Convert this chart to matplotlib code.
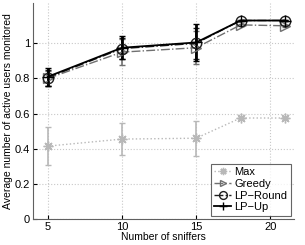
import matplotlib
matplotlib.use("Agg")
import matplotlib.pyplot as plt

sniffers = [5, 10, 15, 18, 21]

max_vals = [0.415, 0.455, 0.46, 0.575, 0.575]
max_err = [0.11, 0.09, 0.10, 0.005, 0.005]

greedy_vals = [0.80, 0.95, 0.975, 1.105, 1.10]
greedy_err = [0.04, 0.075, 0.095, 0.005, 0.005]

lpround_vals = [0.805, 0.97, 1.0, 1.13, 1.13]
lpround_err = [0.045, 0.06, 0.09, 0.005, 0.005]

lpup_vals = [0.81, 0.975, 1.005, 1.13, 1.13]
lpup_err = [0.05, 0.065, 0.105, 0.005, 0.005]

labels = ["Max", "Greedy", "LP\u2212Round", "LP\u2212Up"]
yticks = [0, 0.2, 0.4, 0.6, 0.8, 1]
xticks = [5, 10, 15, 20]


def main():
    plt.rcParams["font.family"] = ["Liberation Sans", "DejaVu Sans"]
    fig = plt.figure(figsize=(3.05, 2.45), dpi=100)
    ax = fig.add_axes([0.108, 0.106, 0.856, 0.882])

    c1 = ax.errorbar(sniffers, max_vals, yerr=max_err, color="#b8b8b8", linestyle=":",
                     marker=(8, 2, 0), markersize=7, linewidth=1, capsize=2,
                     elinewidth=1.2)
    c2 = ax.errorbar(sniffers, greedy_vals, yerr=greedy_err, color="#707070", linestyle="-.",
                     marker=">", markerfacecolor="none", markersize=6.5, linewidth=1,
                     capsize=2, elinewidth=1.2)
    c3 = ax.errorbar(sniffers, lpround_vals, yerr=lpround_err, color="#202020", linestyle="-.",
                     marker="o", markerfacecolor="none", markersize=7.5, linewidth=1,
                     capsize=2, elinewidth=1.2)
    c4 = ax.errorbar(sniffers, lpup_vals, yerr=lpup_err, color="black", linestyle="-",
                     marker="+", markersize=8, linewidth=1.3, capsize=2.5,
                     elinewidth=2)

    ax.set_xlim(4, 21.6)
    ax.set_ylim(0, 1.23)
    ax.set_xticks(xticks)
    ax.set_yticks(yticks)
    ax.set_yticklabels(["0", "0.2", "0.4", "0.6", "0.8", "1"])
    ax.tick_params(direction="in", length=3, labelsize=8, pad=2)
    ax.grid(True, linestyle=":", color="#c8c8c8", linewidth=0.8)
    ax.spines["top"].set_visible(False)
    ax.spines["right"].set_visible(False)
    ax.spines["left"].set_color("#606060")
    ax.spines["bottom"].set_color("#606060")

    ax.set_xlabel("Number of sniffers", fontsize=7.5, labelpad=0)
    ax.set_ylabel("Average number of active users monitored", fontsize=7.5, labelpad=1)

    handles = [c1[0], c2[0], c3[0], c4[0]]
    leg = ax.legend(handles, labels, loc="lower right", fontsize=8, frameon=True,
                    fancybox=False, edgecolor="#404040", handlelength=1.5,
                    handletextpad=0.3, borderpad=0.3, labelspacing=0.15,
                    borderaxespad=0.3, markerscale=0.75)
    leg.get_frame().set_linewidth(0.8)

    fig.savefig("out.png", dpi=100)
    plt.close(fig)


if __name__ == "__main__":
    main()
